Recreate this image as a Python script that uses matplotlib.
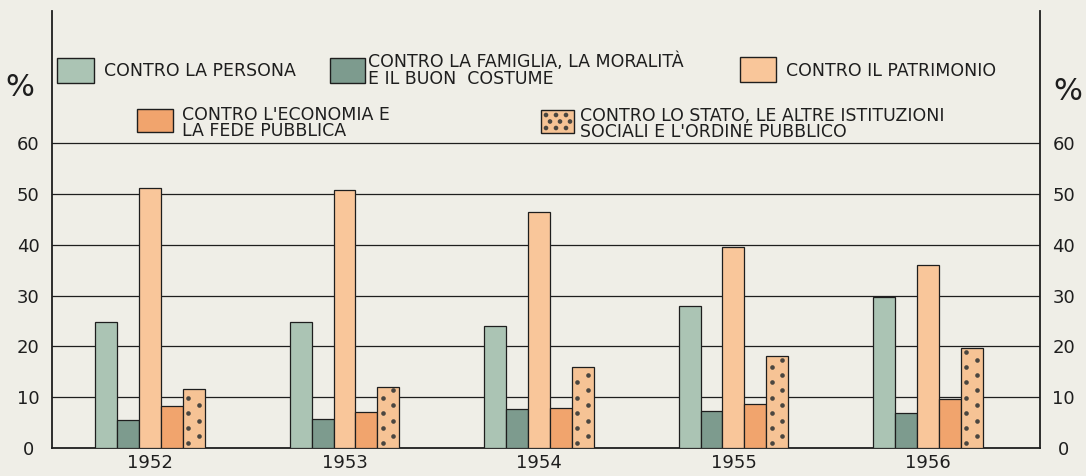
import matplotlib.pyplot as plt
import matplotlib.patches as mpatches
import numpy as np

# values (percentages)
years = ["1952", "1953", "1954", "1955", "1956"]
persona = [24.7, 24.7, 24.0, 28.0, 29.7]
famiglia = [5.6, 5.8, 7.7, 7.2, 6.8]
patrimonio = [51.1, 50.8, 46.4, 39.6, 36.0]
economia = [8.3, 7.0, 7.9, 8.7, 9.6]
stato = [11.7, 12.1, 15.9, 18.2, 19.7]
yticks = [0, 10, 20, 30, 40, 50, 60]

series = [persona, famiglia, patrimonio, economia, stato]
colors = ["#abc4b4", "#7d9b8e", "#f9c69a", "#f1a46d", "#f6c395"]

BG = "#efeee7"
INK = "#1e1e1e"
DOT = "#4a4640"
W, H = 1086, 476

fig = plt.figure(figsize=(W / 100, H / 100), dpi=100, facecolor=BG)
ax = fig.add_axes([52 / W, 1 - 448 / H, (1040 - 52) / W, (448 - 11) / H])
ax.set_facecolor(BG)

x = np.arange(len(years))
bw = 0.113
for i, vals in enumerate(series):
    ax.bar(x + (i - 2) * bw, vals, bw, color=colors[i], edgecolor=INK,
           linewidth=0.9, zorder=3)

# dotted fill for the last series
for xi, h in zip(x + 2 * bw, stato):
    ys = np.arange(0.9, h - 0.5, 1.5)
    xs = [xi - bw * 0.27 if k % 2 == 0 else xi + bw * 0.22 for k in range(len(ys))]
    ax.scatter(xs, ys, s=11, color=DOT, zorder=4, linewidths=0)

for t in yticks[1:]:
    ax.axhline(t, color=INK, linewidth=0.9, zorder=1)

ax.set_xlim(-0.504, 4.576)
ax.set_ylim(0, 86)
ax.spines["top"].set_visible(False)
for s in ["left", "right", "bottom"]:
    ax.spines[s].set_color(INK)
    ax.spines[s].set_linewidth(1.3)
ax.set_xticks(x)
ax.set_xticklabels(years, fontsize=13, color=INK)
ax.tick_params(axis="x", length=0, pad=4)
ax.set_yticks(yticks)
ax.set_yticklabels([str(t) for t in yticks], fontsize=13, color=INK)
ax.tick_params(axis="y", length=0, labelright=True, right=True)
ax.tick_params(axis="y", which="major", left=True)
for lab in ax.get_yticklabels():
    lab.set_horizontalalignment("center")
ax.yaxis.set_tick_params(pad=17)
for t in ax.yaxis.get_major_ticks():
    t.label1.set_horizontalalignment("center")
    t.label2.set_horizontalalignment("center")

fig.text(20 / W, 1 - 88 / H, "%", fontsize=22, color=INK, ha="center", va="center")
fig.text(1068 / W, 1 - 92 / H, "%", fontsize=22, color=INK, ha="center", va="center")


def box(x0, y0, x1, y1, color, dots=False):
    r = mpatches.Rectangle((x0 / W, 1 - y1 / H), (x1 - x0) / W, (y1 - y0) / H,
                           transform=fig.transFigure, facecolor=color,
                           edgecolor=INK, linewidth=1.0)
    fig.patches.append(r)
    if dots:
        for cx in np.linspace(x0 + 5, x1 - 8, 3):
            for k, cy in enumerate(np.linspace(y0 + 5, y1 - 5, 3)):
                fig.patches.append(mpatches.Ellipse(
                    ((cx + (4 if k % 2 else 0)) / W, 1 - cy / H), 3.2 / W, 3.2 / H,
                    transform=fig.transFigure, color=DOT))


def label(xp, yp, txt):
    fig.text(xp / W, 1 - yp / H, txt, fontsize=12.5, color=INK, ha="left",
             va="center", linespacing=0.9)


box(57, 58, 94, 83, colors[0])
label(104, 71, "CONTRO LA PERSONA")
box(330, 58, 365, 83, colors[1])
label(368, 70, "CONTRO LA FAMIGLIA, LA MORALITÀ\nE IL BUON  COSTUME")
box(740, 57, 776, 82, colors[2])
label(786, 71, "CONTRO IL PATRIMONIO")
box(137, 109, 173, 132, colors[3])
label(182, 123, "CONTRO L'ECONOMIA E\nLA FEDE PUBBLICA")
box(541, 110, 574, 133, colors[4], dots=True)
label(580, 124, "CONTRO LO STATO, LE ALTRE ISTITUZIONI\nSOCIALI E L'ORDINE PUBBLICO")

fig.savefig("out.png", dpi=100, facecolor=BG)
